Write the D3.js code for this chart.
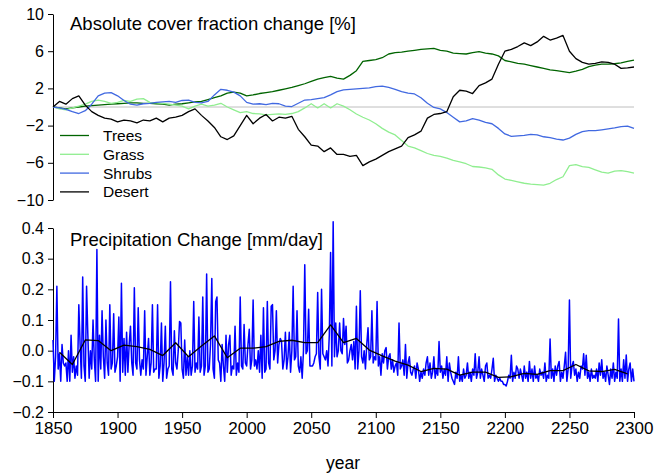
<!DOCTYPE html>
<html><head><meta charset="utf-8">
<script src="https://cdn.jsdelivr.net/npm/d3@7"></script>
<style>
body{margin:0;background:#fff}
text{font-family:"Liberation Sans",Arial,Helvetica,sans-serif;fill:#000}
</style>
</head><body>
<svg id="chart" width="667" height="475"></svg>
<script>
// ---------- DATA ----------
// Top panel: absolute cover fraction change [%], read every 5 years 1850-2300
const coverStart = 1850, coverStep = 5;
const trees = [
  0, -0.1, -0.2, -0.1, 0.0, 0.1, 0.15, 0.2, 0.25, 0.3,
  0.35, 0.4, 0.45, 0.45, 0.4, 0.4, 0.35, 0.3, 0.2, 0.3,
  0.35, 0.45, 0.55, 0.6, 0.8, 1.0, 1.2, 1.5, 1.6, 1.5,
  1.2, 1.3, 1.45, 1.55, 1.65, 1.8, 1.95, 2.1, 2.3, 2.5,
  2.75, 3.0, 3.15, 3.3, 3.1, 3.0, 3.4, 3.9, 4.9, 5.0,
  5.1, 5.3, 5.7, 5.85, 5.9, 6.0, 6.1, 6.2, 6.25, 6.3,
  6.1, 6.0, 5.8, 5.75, 5.7, 5.85, 5.95, 5.8, 5.7, 5.5,
  5.0, 4.85, 4.7, 4.6, 4.45, 4.3, 4.15, 4.0, 3.9, 3.8,
  3.7, 3.85, 4.05, 4.35, 4.5, 4.6, 4.6, 4.65, 4.75, 4.9,
  5.05];
const grass = [
  0, -0.2, -0.3, -0.1, 0.1, 0.3, 0.6, 0.75, 0.6, 0.4,
  0.5, 0.7, 0.6, 0.85, 0.9, 0.5, 0.45, 0.4, 0.3, 0.2,
  0.1, -0.2, 0.1, 0.3, 0.1, 0.2, 0.4, 0.0, -0.3, -0.6,
  -0.5, -0.7, -0.75, -0.85, -0.8, -0.75, -0.8, -0.7, -0.5, -0.1,
  0.35, -0.1, 0.35, -0.1, 0.35, 0.1, -0.3, -0.75, -1.1, -1.4,
  -1.8, -2.3, -2.7, -3.0, -3.6, -4.2, -4.4, -4.7, -5.0, -5.2,
  -5.3, -5.5, -5.75, -5.9, -6.1, -6.4, -6.45, -6.55, -6.7, -7.3,
  -7.75, -7.9, -8.05, -8.2, -8.3, -8.35, -8.4, -8.2, -7.8, -7.5,
  -6.3, -6.2, -6.4, -6.5, -6.75, -7.0, -7.1, -6.9, -6.85, -6.95,
  -7.1];
const shrubs = [
  0, -0.1, -0.25, -0.5, -0.7, -0.4, 0.3, 1.2, 1.5, 1.55,
  1.2, 0.7, 0.3, 0.2, 0.35, 0.4, 0.5, 0.55, 0.6, 0.5,
  0.7, 0.75, 0.5, 0.45, 0.6, 1.3, 1.9, 1.8, 1.6, 1.2,
  0.5, 0.3, 0.35, 0.25, 0.4, 0.35, 0.1, 0.05, 0.4, 0.75,
  0.8, 0.9, 1.0, 1.3, 1.65, 1.85, 1.9, 1.95, 2.0, 2.05,
  2.2, 2.25, 2.1, 1.9, 1.65, 1.5, 1.4, 1.0, 0.4, -0.05,
  -0.2, -0.6, -1.1, -1.6, -1.5, -1.25, -1.4, -1.65, -1.8, -2.3,
  -2.9, -3.15, -3.1, -3.05, -2.95, -3.0, -3.2, -3.3, -3.45, -3.55,
  -3.35, -2.95, -2.65, -2.55, -2.55, -2.45, -2.35, -2.25, -2.1, -2.05,
  -2.3];
const desert = [
  0, 0.6, 0.3, 0.9, 1.2, 0.2, -0.5, -0.9, -1.2, -1.3,
  -1.6, -1.4, -1.5, -1.7, -1.4, -1.5, -1.2, -1.6, -1.2, -1.1,
  -0.9, -0.5, -0.2, -0.9, -1.5, -2.2, -3.2, -3.5, -3.1, -2.0,
  -0.9, -1.8, -1.2, -0.8, -1.5, -1.1, -1.2, -1.0, -2.4, -3.2,
  -4.1, -4.2, -4.8, -4.4, -5.1, -5.1, -5.3, -5.2, -6.3, -5.9,
  -5.6, -5.2, -4.8, -4.5, -4.2, -3.3, -3.0, -2.6, -1.2, -0.8,
  -0.7, -0.5, 1.1, 1.8, 1.7, 1.45, 2.3, 2.6, 3.0, 4.6,
  6.0, 6.2, 6.5, 6.9, 6.6, 7.0, 7.6, 7.2, 7.4, 7.7,
  6.0, 5.2, 4.8, 4.6, 4.7, 4.85, 4.8, 4.6, 4.15, 4.2,
  4.3];
const coverNames = ["Trees", "Grass", "Shrubs", "Desert"];
const coverColors = ["#006400", "#90ee90", "#4169e1", "#000000"];
const coverTicks = [10, 6, 2, -2, -6, -10];

// Bottom panel: annual precipitation change [mm/day], 1850-2300
const precipStart = 1850;
const precip = [
  0.035, -0.1, -0.02, 0.21, -0.06, -0.01, -0.1, 0.02, -0.04, -0.05,
  -0.04, -0.1, 0.0, -0.1, 0.05, -0.07, -0.02, -0.09, -0.05, -0.08,
  0.15, 0.02, -0.09, 0.24, -0.05, -0.1, 0.21, 0.05, -0.09, 0.0,
  -0.06, 0.10, -0.03, -0.1, 0.33, -0.1, 0.05, -0.06, 0.13, -0.02,
  -0.09, 0.10, -0.04, -0.08, 0.15, -0.06, -0.04, 0.12, -0.07, -0.05,
  -0.02, 0.11, -0.1, 0.22, -0.07, 0.04, -0.08, 0.06, -0.07, 0.02,
  0.08, -0.04, -0.08, 0.205, -0.04, -0.06, 0.14, -0.03, -0.08, -0.03,
  -0.06, 0.13, -0.08, -0.02, 0.04, -0.08, -0.04, 0.15, -0.07, -0.06,
  -0.06, 0.15, -0.09, -0.05, 0.09, -0.1, -0.04, 0.08, -0.09, -0.06,
  -0.05, 0.225, -0.06, -0.08, 0.065, -0.04, -0.06, 0.0, 0.095, 0.09,
  -0.06, -0.09, 0.035, -0.08, -0.02, -0.08, 0.0, -0.08, -0.05, 0.16,
  -0.07, -0.04, -0.06, 0.11, -0.07, -0.05, 0.175, -0.08, -0.05, 0.25,
  -0.07, -0.06, 0.02, 0.235, -0.06, -0.09, 0.16, 0.175, -0.03, -0.04,
  -0.1, 0.02, -0.05, -0.1, 0.05, -0.07, 0.02, 0.05, -0.08, -0.05,
  -0.06, 0.08, -0.08, -0.04, -0.07, 0.175, -0.05, -0.06, 0.085, -0.04,
  -0.05, 0.02, 0.07, -0.06, -0.03, 0.165, -0.05, -0.03, -0.06, 0.0,
  -0.07, 0.05, -0.09, 0.14, -0.07, -0.06, 0.16, -0.04, -0.06, 0.145,
  0.15, -0.03, 0.0, 0.13, -0.04, 0.02, 0.04, 0.03, -0.06, -0.03,
  0.06, -0.06, -0.02, 0.06, -0.07, 0.0, 0.21, -0.03, -0.02, 0.13,
  -0.05, -0.07, -0.02, -0.09, 0.0, 0.28, -0.01, 0.0, 0.135, -0.05,
  -0.05, -0.05, -0.04, -0.02, -0.01, 0.19, -0.02, -0.06, 0.2, -0.01,
  -0.02, -0.03, 0.0, -0.05, 0.05, 0.32, -0.05, 0.42, -0.02, 0.09,
  -0.02, 0.0, 0.09, 0.0, -0.01, 0.105, 0.02, 0.08, -0.04, -0.03,
  0.0, 0.02, -0.03, 0.03, -0.06, 0.145, -0.06, 0.0, 0.195, -0.02,
  -0.04, 0.0, -0.06, 0.02, 0.075, -0.03, -0.02, 0.13, -0.04, -0.02,
  -0.03, 0.16, -0.05, -0.02, -0.08, -0.01, -0.04, 0.0, 0.01, -0.06,
  -0.02, -0.01, -0.06, -0.03, -0.07, -0.05, -0.04, -0.08, 0.09, -0.06,
  -0.05, -0.03, -0.08, 0.02, -0.09, -0.04, -0.02, -0.07, -0.08, -0.06,
  -0.05, -0.09, -0.04, -0.06, -0.1, -0.07, -0.09, -0.06, -0.08, -0.04,
  -0.02, -0.08, -0.04, -0.09, -0.07, -0.02, -0.09, -0.06, -0.08, 0.03,
  -0.07, -0.05, -0.09, -0.06, -0.08, -0.02, -0.1, -0.04, -0.07, -0.09,
  -0.1, -0.11, -0.07, -0.09, -0.02, -0.1, -0.08, -0.1, -0.06, -0.09,
  -0.08, -0.04, -0.09, -0.07, -0.1, -0.06, -0.08, -0.01, -0.09, -0.07,
  -0.02, -0.09, -0.06, -0.08, -0.1, -0.05, -0.04, -0.09, -0.08, -0.09,
  -0.06, -0.025, -0.1, -0.08, -0.09, -0.1, -0.09, -0.1, -0.1, -0.11,
  -0.11, -0.115, -0.1, -0.08, -0.09, -0.015, -0.1, -0.07, -0.09, -0.05,
  -0.06, -0.09, -0.06, -0.08, -0.1, -0.05, -0.09, -0.07, -0.1, -0.035,
  -0.09, -0.06, -0.1, -0.05, -0.09, -0.08, -0.1, -0.06, -0.08, -0.07,
  -0.09, -0.04, -0.1, -0.08, -0.09, 0.038, -0.09, -0.06, -0.1, -0.05,
  -0.08, -0.05, -0.035, -0.1, -0.07, -0.09, -0.05, -0.005, -0.1, -0.06,
  0.165, -0.09, -0.05, -0.035, -0.08, -0.06, -0.1, -0.07, -0.09, -0.05,
  -0.06, -0.01, -0.08, -0.015, -0.09, -0.07, -0.1, -0.06, -0.09, -0.08,
  -0.09, -0.06, -0.1, -0.04, -0.08, -0.03, -0.09, -0.07, -0.1, -0.05,
  -0.08, -0.11, -0.06, -0.09, -0.04, -0.1, -0.07, -0.09, 0.103, -0.1,
  -0.06, -0.1, -0.03, -0.09, -0.014, -0.1, -0.06, -0.04, -0.1, -0.06,
  -0.1];
// Decadal means, centred on 1855, 1865, ..., 2295
const decadeStart = 1855, decadeStep = 10;
const precipDecadal = [
  -0.005, -0.045, 0.035, 0.033, 0.0, 0.018, 0.013, 0.004, -0.016, 0.026,
  -0.02, 0.015, 0.048, -0.023, 0.008, 0.008, 0.013, 0.03, 0.034, 0.026,
  0.026, 0.084, 0.026, 0.04, 0.002, -0.017, -0.034, -0.047, -0.068, -0.058,
  -0.06, -0.08, -0.07, -0.07, -0.087, -0.085, -0.074, -0.077, -0.065, -0.065,
  -0.045, -0.066, -0.068, -0.061, -0.076];
const precipTicks = [-0.2, -0.1, 0.0, 0.1, 0.2, 0.3, 0.4];
const yearTicks = [1850, 1900, 1950, 2000, 2050, 2100, 2150, 2200, 2250, 2300];

// ---------- DRAW ----------
const svg = d3.select("#chart");
svg.append("rect").attr("width", 667).attr("height", 475).attr("fill", "#fff");

const x = d3.scaleLinear().domain([1850, 2300]).range([53, 634]);
const yTop = d3.scaleLinear().domain([-10, 10]).range([200, 14]);
const yBot = d3.scaleLinear().domain([-0.2, 0.4]).range([412, 228]);

// top axis
const axTop = svg.append("g").attr("transform", "translate(53,0)")
  .call(d3.axisLeft(yTop).tickValues(coverTicks).tickSize(5).tickSizeOuter(0).tickPadding(4).tickFormat(d3.format("d")));
axTop.selectAll("text").attr("font-size", 16).attr("font-family", "Liberation Sans, Arial, sans-serif");

// zero reference line
svg.append("line").attr("x1", x(1850)).attr("x2", x(2300))
  .attr("y1", yTop(0)).attr("y2", yTop(0)).attr("stroke", "#bebebe").attr("stroke-width", 1);

const coverSeries = [trees, grass, shrubs, desert];
const topLine = d3.line().x((d, i) => x(coverStart + i * coverStep)).y(d => yTop(d));
coverSeries.forEach((s, k) => {
  svg.append("path").datum(s).attr("d", topLine).attr("fill", "none")
    .attr("stroke", coverColors[k]).attr("stroke-width", 1.3).attr("stroke-linejoin", "round");
});

svg.append("text").attr("x", 70).attr("y", 30).attr("font-size", 18.5)
  .text("Absolute cover fraction change [%]");

// legend
const leg = svg.append("g");
coverNames.forEach((n, k) => {
  const yy = 135.5 + k * 18.8;
  leg.append("line").attr("x1", 60).attr("x2", 89).attr("y1", yy).attr("y2", yy)
    .attr("stroke", coverColors[k]).attr("stroke-width", 1.3);
  leg.append("text").attr("x", 103).attr("y", yy + 5.5).attr("font-size", 15.5).text(n);
});

// bottom axes
const axBotY = svg.append("g").attr("transform", "translate(53,0)")
  .call(d3.axisLeft(yBot).tickValues(precipTicks).tickSize(5).tickSizeOuter(0).tickPadding(4).tickFormat(d3.format(".1f")));
axBotY.selectAll("text").attr("font-size", 16).attr("font-family", "Liberation Sans, Arial, sans-serif");

const axBotX = svg.append("g").attr("transform", "translate(0,412)")
  .call(d3.axisBottom(x).tickValues(yearTicks).tickSize(6).tickSizeOuter(0).tickPadding(4).tickFormat(d3.format("d")));
axBotX.selectAll("text").attr("font-size", 17).attr("font-family", "Liberation Sans, Arial, sans-serif");

svg.selectAll(".domain, .tick line").attr("stroke", "#000");

const botLine = d3.line().x((d, i) => x(precipStart + i)).y(d => yBot(d));
svg.append("path").datum(precip).attr("d", botLine).attr("fill", "none")
  .attr("stroke", "#0000ff").attr("stroke-width", 1.5).attr("stroke-linejoin", "round");

const decLine = d3.line().x((d, i) => x(decadeStart + i * decadeStep)).y(d => yBot(d));
svg.append("path").datum(precipDecadal).attr("d", decLine).attr("fill", "none")
  .attr("stroke", "#000").attr("stroke-width", 1.3).attr("stroke-linejoin", "round");

svg.append("text").attr("x", 70).attr("y", 246).attr("font-size", 18.5)
  .text("Precipitation Change [mm/day]");

svg.append("text").attr("x", 343).attr("y", 469).attr("font-size", 17.5)
  .attr("text-anchor", "middle").text("year");
</script>
</body></html>
